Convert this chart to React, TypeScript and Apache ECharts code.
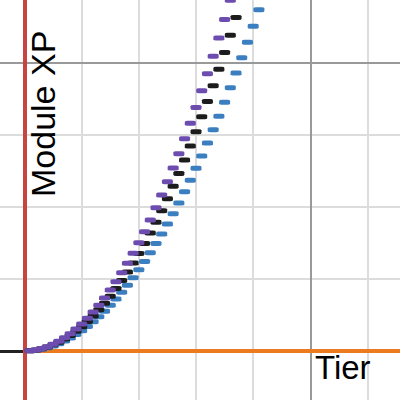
import React, { useEffect, useRef } from "react";
import * as echarts from "echarts";

// Tier numbers (x) and Module XP values (y)
const tiers = [1, 2, 3, 4, 5, 6, 7, 8, 9, 10, 11, 12, 13, 14, 15, 16, 17, 18, 19, 20, 21, 22, 23, 24, 25, 26, 27, 28, 29, 30, 31, 32, 33, 34, 35, 36, 37, 38, 39, 40, 41, 42];
const purpleXP = [4, 15, 34, 60, 94, 135, 184, 240, 304, 376, 454, 541, 635, 736, 845, 962, 1085, 1217, 1356, 1502, 1656, 1818, 1987, 2163, 2348, 2539, 2738, 2945, 3159, 3380, 3610, 3846, 4090, 4342, 4601, 4868, 5142];
const blackXP = [3, 14, 30, 54, 85, 122, 166, 216, 274, 338, 409, 487, 571, 663, 761, 866, 977, 1095, 1220, 1352, 1490, 1636, 1788, 1947, 2113, 2285, 2464, 2651, 2843, 3042, 3249, 3461, 3681, 3908, 4141, 4381, 4628, 4882];
const blueXP = [3, 11, 25, 45, 70, 101, 138, 180, 228, 282, 341, 406, 476, 552, 634, 721, 814, 913, 1017, 1127, 1242, 1363, 1490, 1623, 1761, 1904, 2054, 2208, 2369, 2535, 2707, 2885, 3068, 3257, 3451, 3651, 3857, 4068, 4285, 4507, 4735, 4970];

const minorX = [10, 20, 30, 40, 60];
const majorX = [50];
const minorY = [1000, 2000, 3000];
const majorY = [4000];

const X_MIN = -4.285;
const X_MAX = 65.68;
const Y_MIN = -680;
const Y_MAX = 4870;

const FAMILY = '"Liberation Sans", Arial, sans-serif';

function toPoints(values: number[]) {
  return values.map((v, i) => [tiers[i], v]);
}

export default function App() {
  const ref = useRef<HTMLDivElement>(null);
  useEffect(() => {
    if (!ref.current) return;
    const chart = echarts.init(ref.current, null, { renderer: "svg" });
    const gridLine = (color: string, width: number) => ({ color, width, type: "solid" as const });
    const scatter = (name: string, values: number[], color: string, z: number) => ({
      name,
      type: "scatter",
      data: toPoints(values),
      symbol: "roundRect",
      symbolSize: [11, 5],
      itemStyle: { color, opacity: 1 },
      z,
      silent: true,
    });
    chart.setOption({
      animation: false,
      backgroundColor: "#ffffff",
      grid: { left: 0, right: 0, top: 0, bottom: 0, containLabel: false },
      xAxis: {
        type: "value",
        min: X_MIN,
        max: X_MAX,
        axisLine: { show: false },
        axisTick: { show: false },
        axisLabel: { show: false },
        splitLine: { show: false },
      },
      yAxis: {
        type: "value",
        min: Y_MIN,
        max: Y_MAX,
        axisLine: { show: false },
        axisTick: { show: false },
        axisLabel: { show: false },
        splitLine: { show: false },
      },
      series: [
        {
          type: "line",
          data: [],
          z: 1,
          silent: true,
          markLine: {
            z: 1,
            silent: true,
            symbol: "none",
            label: { show: false },
            emphasis: { disabled: true },
            data: [
              ...minorX.map((v) => ({ xAxis: v, lineStyle: gridLine("#dcdcdc", 2) })),
              ...minorY.map((v) => ({ yAxis: v, lineStyle: gridLine("#dcdcdc", 2) })),
              ...majorX.map((v) => ({ xAxis: v, lineStyle: gridLine("#999999", 2) })),
              ...majorY.map((v) => ({ yAxis: v, lineStyle: gridLine("#999999", 2) })),
            ],
          },
        },
        {
          type: "line",
          data: [],
          z: 2,
          silent: true,
          markLine: {
            z: 2,
            silent: true,
            symbol: "none",
            label: { show: false },
            emphasis: { disabled: true },
            data: [
              [
                { coord: [X_MIN, 0], lineStyle: gridLine("#222222", 3) },
                { coord: [0, 0] },
              ],
              [
                { coord: [0, 0], lineStyle: gridLine("#ec7a1e", 4) },
                { coord: [X_MAX, 0] },
              ],
              { xAxis: 0, lineStyle: gridLine("#c74440", 4) },
            ],
          },
        },
        scatter("blue", blueXP, "#3b7fc0", 3),
        scatter("black", blackXP, "#1c1c1c", 4),
        scatter("purple", purpleXP, "#6c4cae", 5),
      ],
      graphic: [
        {
          type: "text",
          x: 315,
          y: 367.6,
          z: 10,
          style: { text: "Tier", font: "33px " + FAMILY, fill: "#000", textAlign: "left", textVerticalAlign: "middle" },
        },
        {
          type: "text",
          x: 42.5,
          y: 197,
          rotation: Math.PI / 2,
          z: 10,
          style: { text: "Module XP", font: "34px " + FAMILY, fill: "#000", textAlign: "left", textVerticalAlign: "middle" },
        },
      ],
    });
    return () => chart.dispose();
  }, []);
  return (
    <div
      ref={ref}
      style={{ position: "fixed", left: 0, top: 0, width: 400, height: 400, background: "#fff" }}
    />
  );
}
